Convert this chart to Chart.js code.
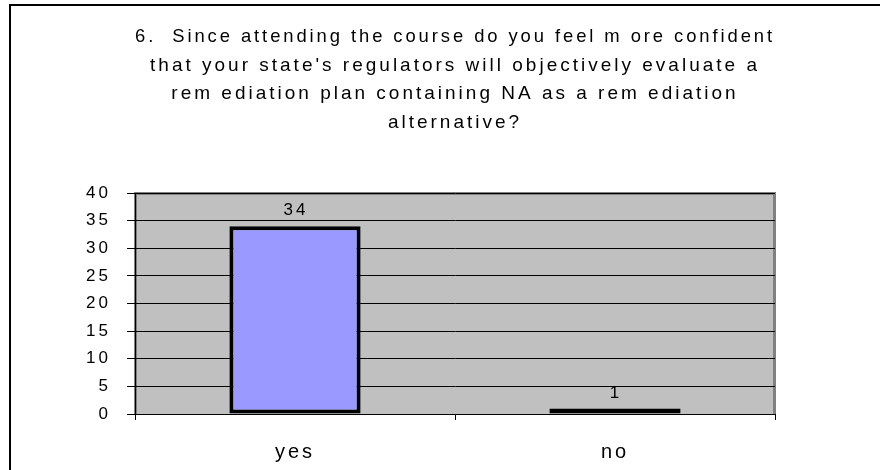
<!DOCTYPE html>
<html>
<head>
<meta charset="utf-8">
<script src="https://cdn.jsdelivr.net/npm/chart.js@4"></script>
<style>
  html, body { margin: 0; padding: 0; background: #fff; }
  canvas { display: block; }
</style>
</head>
<body>
<canvas id="chart" width="880" height="470"></canvas>
<script>
// question title, one entry per line as in the original sheet
const titleLines = [
    "6.  Since attending the course do you feel m ore confident",
    "that your state's regulators will objectively evaluate a",
    "rem ediation plan containing NA as a rem ediation",
    "alternative?"
];
const answers = ["yes", "no"];
const counts = [34, 1];
const yTicks = [0, 5, 10, 15, 20, 25, 30, 35, 40];

const FONT = "'Liberation Sans', Arial, sans-serif";
const SPACING = "3px";

/**
 * Old Excel charts draw text with wide letter spacing; canvas can do that natively.
 */
const spacingPlugin = {
    id: "spacing",
    beforeUpdate(chart) { chart.ctx.letterSpacing = SPACING; },
    beforeLayout(chart) { chart.ctx.letterSpacing = SPACING; },
    beforeDraw(chart) { chart.ctx.letterSpacing = SPACING; }
};

/**
 * Gray plot area with the darker frame, plus the outer chart border.
 */
const framePlugin = {
    id: "frame",
    beforeDraw(chart) {
        const {ctx, chartArea: a} = chart;
        ctx.save();
        ctx.fillStyle = "#c0c0c0";
        ctx.fillRect(a.left, a.top, a.right - a.left, a.bottom - a.top);
        ctx.strokeStyle = "#808080";
        ctx.lineWidth = 3;
        ctx.beginPath();
        ctx.moveTo(a.left + 0.5, a.bottom);
        ctx.lineTo(a.left + 0.5, a.top + 0.5);
        ctx.lineTo(a.right - 0.5, a.top + 0.5);
        ctx.lineTo(a.right - 0.5, a.bottom);
        ctx.stroke();
        // outer border, cut off by the picture on the right and bottom
        ctx.strokeStyle = "#000";
        ctx.lineWidth = 2;
        ctx.beginPath();
        ctx.moveTo(10, 470);
        ctx.lineTo(10, 5);
        ctx.lineTo(880, 5);
        ctx.stroke();
        ctx.restore();
    }
};

/**
 * Value labels over each bar.
 */
const valueLabels = {
    id: "valueLabels",
    afterDatasetsDraw(chart) {
        const ctx = chart.ctx;
        const meta = chart.getDatasetMeta(0);
        ctx.save();
        ctx.letterSpacing = SPACING;
        ctx.font = "17px " + FONT;
        ctx.fillStyle = "#000";
        ctx.textAlign = "center";
        ctx.textBaseline = "bottom";
        meta.data.forEach((bar, i) => {
            ctx.fillText(String(counts[i]), bar.x + 1, bar.y - 7);
        });
        ctx.restore();
    }
};

new Chart(document.getElementById("chart"), {
    type: "bar",
    data: {
        labels: answers,
        datasets: [{
            data: counts,
            backgroundColor: "#9999ff",
            borderColor: "#000",
            borderWidth: 4,
            borderSkipped: false,
            categoryPercentage: 1,
            barPercentage: 0.41
        }]
    },
    options: {
        responsive: false,
        animation: false,
        layout: {padding: {left: 0, right: 105, top: 0, bottom: 0}},
        plugins: {
            legend: {display: false},
            tooltip: {enabled: false},
            title: {
                display: true,
                fullSize: false,
                text: titleLines,
                color: "#000",
                font: {family: FONT, size: 19, weight: "normal", lineHeight: 1.5},
                padding: {top: 23, bottom: 56}
            }
        },
        scales: {
            x: {
                offset: true,
                afterFit(scale) { scale.height = 56; },
                grid: {
                    offset: true,
                    drawOnChartArea: false,
                    drawTicks: true,
                    tickLength: 6,
                    color: "#000"
                },
                border: {color: "#000", width: 1},
                ticks: {color: "#000", padding: 20, font: {family: FONT, size: 20}}
            },
            y: {
                min: 0,
                max: 40,
                afterBuildTicks(scale) {
                    scale.ticks = yTicks.map(v => ({value: v}));
                },
                afterFit(scale) { scale.width = 135; },
                grid: {color: "#000", lineWidth: 1, tickLength: 8},
                border: {color: "#000", width: 1},
                ticks: {color: "#000", padding: 16, font: {family: FONT, size: 17}}
            }
        }
    },
    plugins: [spacingPlugin, framePlugin, valueLabels]
});
</script>
</body>
</html>
